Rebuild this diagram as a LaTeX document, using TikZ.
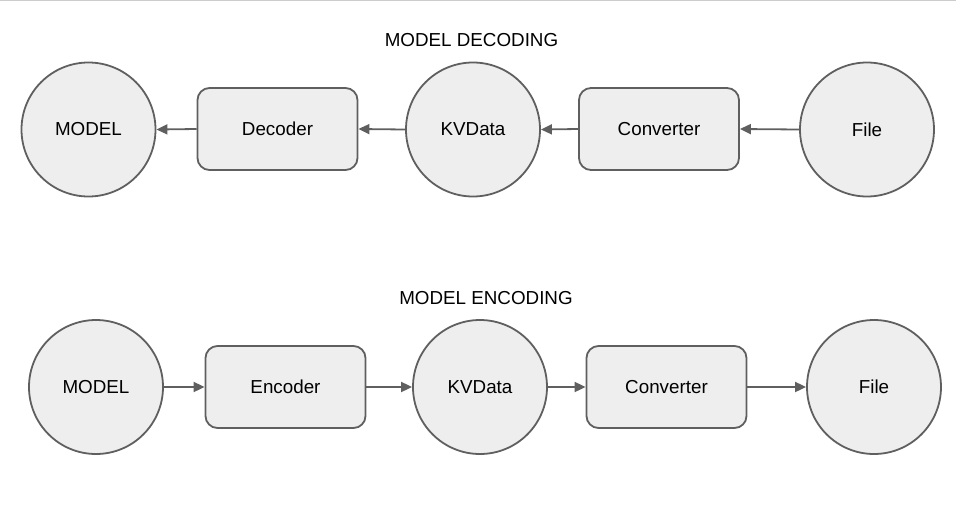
\documentclass[tikz,border=0pt]{standalone}
\usepackage{fontspec}
\setmainfont{Liberation Sans}
\usetikzlibrary{arrows.meta}
\definecolor{dgnline}{HTML}{5F5F5F}
\definecolor{dgnfill}{HTML}{EEEEEE}
\begin{document}
\begin{tikzpicture}[x=1pt,y=-1pt,
  dgncircle/.style={circle,draw=dgnline,fill=dgnfill,line width=1.8pt,minimum size=134pt,inner sep=0pt,font=\fontsize{18.8}{22}\selectfont},
  dgnbox/.style={rectangle,rounded corners=12pt,draw=dgnline,fill=dgnfill,line width=1.8pt,minimum width=160pt,minimum height=82pt,inner sep=0pt,font=\fontsize{18.8}{22}\selectfont},
  dgntitle/.style={font=\fontsize{18.8}{22}\selectfont},
  dgnarrow/.style={-{Triangle[length=11pt,width=10pt]},draw=dgnline,fill=dgnline,line width=1.8pt}]

\useasboundingbox (0,0) rectangle (956,504);
\draw [line width=1.5pt,color=black!20] (0,0.5) -- (956,0.5);


\node [dgntitle] (dec-title) at (471.5,40){MODEL DECODING};

\node [dgncircle] (dec-model) at (88.5,129.5){MODEL};

\node [dgnbox] (dec-decoder) at (277.5,129){Decoder};
\draw [dgnarrow]   (dec-decoder.west) -- (dec-model.east);

\node [dgncircle] (dec-kv) at (473,129.5){KVData};
\draw [dgnarrow]   (dec-kv.west) -- (dec-decoder.east);

\node [dgnbox] (dec-conv) at (659,129){Converter};
\draw [dgnarrow]   (dec-conv.west) -- (dec-kv.east);

\node [dgncircle] (dec-file) at (867,129.5){File};
\draw [dgnarrow]   (dec-file.west) -- (dec-conv.east);



\node [dgntitle] (enc-title) at (486,298){MODEL ENCODING};

\node [dgncircle] (enc-model) at (96,387){MODEL};

\node [dgnbox] (enc-encoder) at (285.5,387){Encoder};
\draw [dgnarrow]   (enc-model.east) -- (enc-encoder.west);

\node [dgncircle] (enc-kv) at (480,387){KVData};
\draw [dgnarrow]   (enc-encoder.east) -- (enc-kv.west);

\node [dgnbox] (enc-conv) at (666.5,387){Converter};
\draw [dgnarrow]   (enc-kv.east) -- (enc-conv.west);

\node [dgncircle] (enc-file) at (874,387){File};
\draw [dgnarrow]   (enc-conv.east) -- (enc-file.west);


\end{tikzpicture}
\end{document}
